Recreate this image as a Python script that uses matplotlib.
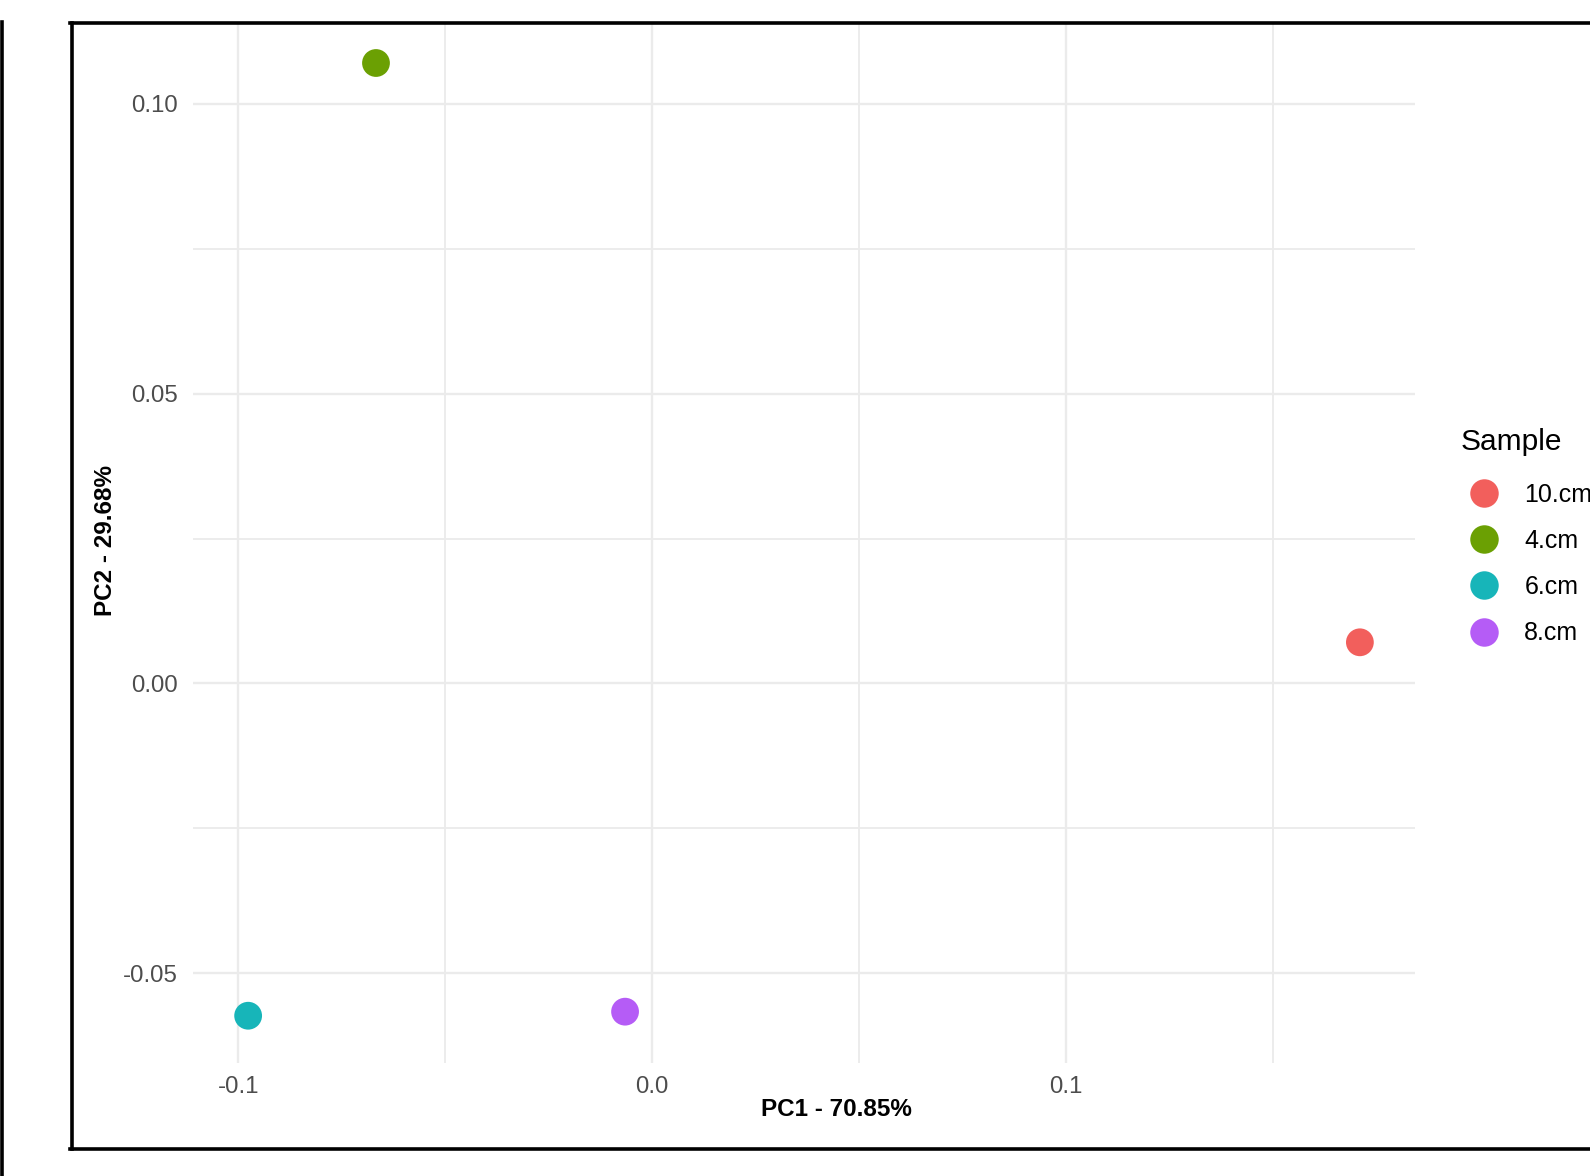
import matplotlib
matplotlib.use("Agg")
import matplotlib.pyplot as plt
from matplotlib.lines import Line2D

plt.rcParams['font.family'] = ['Liberation Sans', 'DejaVu Sans']

# PCA scores per sample
samples = ["10.cm", "4.cm", "6.cm", "8.cm"]
pc1 = [0.1711, -0.0667, -0.0976, -0.0065]
pc2 = [0.0071, 0.1070, -0.0573, -0.0566]
colors = ["#F25F5C", "#6BA003", "#17B5B9", "#B55CF6"]

x_major = [-0.1, 0.0, 0.1]
x_minor = [-0.05, 0.05, 0.15]
y_major = [-0.05, 0.0, 0.05, 0.10]
y_minor = [-0.025, 0.025, 0.075]
x_labels = ["-0.1", "0.0", "0.1"]
y_labels = ["-0.05", "0.00", "0.05", "0.10"]

W, H = 1590, 1176
dpi = 100
fig = plt.figure(figsize=(W / dpi, H / dpi), dpi=dpi)

def fx(px):
    return px / W

def fy(py):
    return 1 - py / H

left, right, top, bottom = 192.7, 1414.5, 23.0, 1062.7
ax = fig.add_axes([fx(left), fy(bottom), fx(right) - fx(left), fy(top) - fy(bottom)])
ax.set_xlim(-0.111, 0.1843)
ax.set_ylim(-0.0654, 0.1139)

grid_col = "#EBEBEB"
for v in x_major:
    ax.axvline(v, color=grid_col, lw=1.7, zorder=0)
for v in x_minor:
    ax.axvline(v, color=grid_col, lw=1.3, zorder=0)
for v in y_major:
    ax.axhline(v, color=grid_col, lw=1.7, zorder=0)
for v in y_minor:
    ax.axhline(v, color=grid_col, lw=1.3, zorder=0)

marker_s = 400
for s, x, y, c in zip(samples, pc1, pc2, colors):
    ax.scatter([x], [y], s=marker_s, color=c, edgecolors="none", label=s, zorder=3)

ax.set_xticks(x_major)
ax.set_xticklabels(x_labels)
ax.set_yticks(y_major)
ax.set_yticklabels(y_labels)
ax.tick_params(axis="both", length=0, labelsize=17.3, labelcolor="#4D4D4D")
ax.tick_params(axis="x", pad=9.5)
ax.tick_params(axis="y", pad=10.5)
for sp in ax.spines.values():
    sp.set_visible(False)

fig.text(fx(836), fy(1110), "PC1 - 70.85%", ha="center", va="center",
         fontsize=17.5, fontweight="bold", color="black")
fig.text(fx(105), fy(540), "PC2 - 29.68%", ha="center", va="center",
         rotation=90, fontsize=17.5, fontweight="bold", color="black")

# legend
leg_fs = 18
leg_spacing = 0.89
handles = [Line2D([], [], marker="o", linestyle="none", markersize=20.5,
                  markerfacecolor=c, markeredgecolor="none") for c in colors]
leg = fig.legend(handles, samples, title="Sample", loc="upper left",
                 bbox_to_anchor=(fx(1448), fy(416)), frameon=False,
                 fontsize=leg_fs, title_fontsize=21.5, labelspacing=leg_spacing,
                 handletextpad=0.7, handlelength=1.85, borderpad=0.0)
leg._legend_box.align = "left"
leg._legend_box.sep = leg_spacing * leg_fs + 2.8

# framing lines
frame_lw = 2.6
fig.add_artist(Line2D([fx(71.5), fx(71.5)], [fy(23), fy(1149)], color="black", lw=frame_lw))
fig.add_artist(Line2D([fx(70), fx(W + 5)], [fy(23), fy(23)], color="black", lw=frame_lw))
fig.add_artist(Line2D([fx(70), fx(W + 5)], [fy(1149), fy(1149)], color="black", lw=frame_lw))
fig.add_artist(Line2D([fx(1.8), fx(1.8)], [fy(21.5), fy(H + 5)], color="black", lw=frame_lw))

fig.savefig("out.png", dpi=dpi, facecolor="white")
